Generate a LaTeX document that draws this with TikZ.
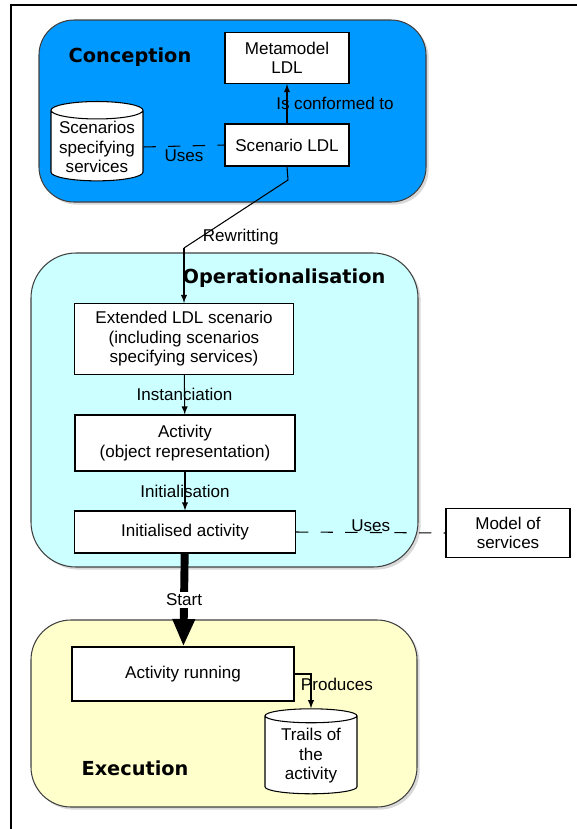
\documentclass[tikz,border=0pt]{standalone}
\usepackage{fontspec}
\setmainfont{Liberation Sans}
\newfontfamily\headfont{DejaVu Sans}
\usetikzlibrary{shapes.geometric,arrows.meta,shadows}

\definecolor{concblue}{RGB}{0,153,255}
\definecolor{opcyan}{RGB}{204,255,255}
\definecolor{execyellow}{RGB}{255,255,204}

\newcommand{\boxfont}{\fontsize{9.7}{11.1}\selectfont}
\newcommand{\phasefont}{\headfont\bfseries\fontsize{11}{13}\selectfont}

\tikzset{
  phase/.style={draw=black!75, line width=0.6pt,
    drop shadow={opacity=0.3, shadow xshift=1.5pt, shadow yshift=-1.5pt}},
  phasename/.style={font=\phasefont},
  stepbox/.style={draw, fill=white, line width=0.6pt, align=center, font=\boxfont, inner sep=1pt},
  store/.style={cylinder, shape border rotate=90, aspect=0.22, draw, fill=white,
    line width=0.6pt, align=center, font=\boxfont, inner sep=1pt},
  lbl/.style={font=\boxfont, inner sep=1pt},
  link/.style={line width=0.6pt, -latex},
  useslink/.style={line width=0.6pt, dash pattern=on 7pt off 7pt},
}

\begin{document}
\begin{tikzpicture}[x=0.02cm, y=-0.02cm]
  \useasboundingbox (0,0) rectangle (577,829);
  \draw[line width=1.2pt] (11,829) -- (11,5) -- (577,5);

  % the three phases
  \draw[phase, fill=concblue, rounded corners=0.7cm] (39,20) rectangle (426,202);
  \draw[phase, fill=opcyan, rounded corners=0.9cm] (31,253) rectangle (418,567);
  \draw[phase, fill=execyellow, rounded corners=0.8cm] (31,620) rectangle (417,807);

  \node[phasename] (conctitle) at (130,57) {Conception};
  \node[phasename] (optitle) at (284,278) {Operationalisation};
  \node[phasename] (exectitle) at (135,768) {Execution};

  % conception
  \node[stepbox, minimum width=2.48cm, minimum height=1.02cm] (meta) at (287,58) {Metamodel\\LDL};
  \node[stepbox, minimum width=2.48cm, minimum height=0.84cm] (scen) at (287,145) {Scenario LDL};
  \node[store, minimum width=1.84cm, minimum height=1.54cm] (specs) at (97,147) {Scenarios\\specifying\\services};

  \draw[link] (scen) -- (meta) node[lbl, midway, xshift=0.96cm]{Is conformed to};
  \draw[useslink] (specs.east) -- (scen.west) node[lbl, midway, below=1pt]{Uses};

  % operationalisation
  \node[stepbox, minimum width=4.38cm, minimum height=1.42cm] (ext) at (184,339)
    {Extended LDL scenario\\(including scenarios\\specifying services)};
  \node[stepbox, minimum width=4.4cm, minimum height=1.12cm] (act) at (185,443)
    {Activity\\(object representation)};
  \node[stepbox, minimum width=4.42cm, minimum height=0.84cm] (init) at (185,532) {Initialised activity};
  \node[stepbox, minimum width=2.48cm, minimum height=0.98cm] (model) at (508,533) {Model of\\services};

  \coordinate (rw1) at (288,180);
  \coordinate (rw2) at (184,248);
  \draw[line width=0.6pt] (scen.south) -- (rw1) -- (rw2) node[lbl, pos=.84, right]{Rewritting};
  \draw[link] (rw2) -- (ext.north);

  \draw[link] (ext) -- (act) node[lbl, midway]{Instanciation};
  \draw[link] (act) -- (init) node[lbl, midway]{Initialisation};
  \draw[useslink] (init.east) -- (model.west) node[lbl, midway, above=-1pt]{Uses};

  % execution
  \node[stepbox, minimum width=4.44cm, minimum height=1.08cm] (run) at (183,674) {Activity running};
  \node[store, minimum width=1.84cm, minimum height=1.7cm] (trails) at (311,756) {Trails of\\the\\activity};

  \draw[line width=4.5pt, -{Triangle[width=0.42cm,length=0.55cm]}] (init) -- (run)
    node[lbl, pos=.5, fill=white]{Start};
  \draw[link] (run.east) -| (trails.north) node[lbl, pos=.65, xshift=0.52cm]{Produces};
\end{tikzpicture}
\end{document}
